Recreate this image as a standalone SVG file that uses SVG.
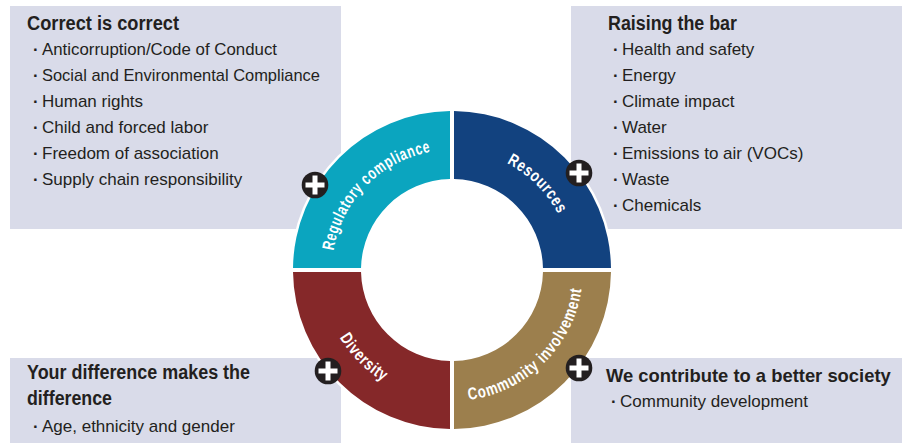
<svg xmlns="http://www.w3.org/2000/svg" width="904" height="443" viewBox="0 0 904 443">
<style>
.box{fill:#d9dbe9}
.title{font-family:"Liberation Sans",Arial,sans-serif;font-weight:bold;font-size:19.5px;fill:#231f20}
.title2{font-family:"Liberation Sans",Arial,sans-serif;font-weight:bold;font-size:18.4px;fill:#231f20}
.item{font-family:"Liberation Sans",Arial,sans-serif;font-size:17px;fill:#231f20}
.bul{font-family:"Liberation Sans",Arial,sans-serif;font-weight:bold;font-size:16.8px;fill:#231f20}
.ring{font-family:"Liberation Sans",Arial,sans-serif;font-weight:bold;font-size:17px;letter-spacing:1px;fill:#ffffff}
.plusbg{fill:#231f20}
.plus{fill:#ffffff}
</style>
<defs>
<path id="pReg" d="M333.55,250.81 A120,120 0 0 1 432.81,151.55"/>
<path id="pRes" d="M506.66,163.17 A120,120 0 0 1 558.83,215.34"/>
<path id="pCom" d="M468.87,399.91 A131,131 0 0 0 581.91,286.87"/>
<path id="pDiv" d="M339.71,337.47 A131,131 0 0 0 384.53,382.29"/>
<g id="plusIcon">
<circle class="plusbg" cx="0" cy="0" r="13.3"/>
<rect class="plus" x="-9.5" y="-2.5" width="19" height="5"/>
<rect class="plus" x="-2.5" y="-9.5" width="5" height="19"/>
</g>
</defs>
<rect width="904" height="443" fill="#ffffff"/>

<g id="box-correct">
<rect class="box" x="10" y="6" width="331" height="223"/>
<text class="title" x="27" y="30" textLength="152" lengthAdjust="spacingAndGlyphs">Correct is correct</text>
<text class="bul" x="33" y="55">·</text><text class="item" x="42" y="55" textLength="235" lengthAdjust="spacingAndGlyphs">Anticorruption/Code of Conduct</text>
<text class="bul" x="33" y="81">·</text><text class="item" x="42" y="81" textLength="278" lengthAdjust="spacingAndGlyphs">Social and Environmental Compliance</text>
<text class="bul" x="33" y="107">·</text><text class="item" x="42" y="107">Human rights</text>
<text class="bul" x="33" y="133">·</text><text class="item" x="42" y="133">Child and forced labor</text>
<text class="bul" x="33" y="159">·</text><text class="item" x="42" y="159">Freedom of association</text>
<text class="bul" x="33" y="185">·</text><text class="item" x="42" y="185">Supply chain responsibility</text>
</g>

<g id="box-raising">
<rect class="box" x="571" y="6" width="331" height="223"/>
<text class="title" x="608" y="30" textLength="129" lengthAdjust="spacingAndGlyphs">Raising the bar</text>
<text class="bul" x="613" y="55">·</text><text class="item" x="622" y="55">Health and safety</text>
<text class="bul" x="613" y="81">·</text><text class="item" x="622" y="81">Energy</text>
<text class="bul" x="613" y="107">·</text><text class="item" x="622" y="107">Climate impact</text>
<text class="bul" x="613" y="133">·</text><text class="item" x="622" y="133">Water</text>
<text class="bul" x="613" y="159">·</text><text class="item" x="622" y="159">Emissions to air (VOCs)</text>
<text class="bul" x="613" y="185">·</text><text class="item" x="622" y="185">Waste</text>
<text class="bul" x="613" y="211">·</text><text class="item" x="622" y="211">Chemicals</text>
</g>

<g id="box-difference">
<rect class="box" x="10" y="358" width="331" height="85"/>
<text class="title" x="27" y="379" textLength="223" lengthAdjust="spacingAndGlyphs">Your difference makes the</text>
<text class="title" x="27" y="405" textLength="85" lengthAdjust="spacingAndGlyphs">difference</text>
<text class="bul" x="33" y="432">·</text><text class="item" x="42" y="432">Age, ethnicity and gender</text>
</g>

<g id="box-society">
<rect class="box" x="571" y="358" width="331" height="85"/>
<text class="title2" x="606" y="382">We contribute to a better society</text>
<text class="bul" x="611" y="407">·</text><text class="item" x="620" y="407">Community development</text>
</g>

<circle cx="452" cy="270" r="161.5" fill="#ffffff"/>

<g id="seg-regulatory">
<path fill="#0ba5bf" d="M293.01,268 A159,159 0 0 1 450,111.01 L450,179.02 A91,91 0 0 0 361.02,268 Z"/>
<text class="ring"><textPath href="#pReg" textLength="148" lengthAdjust="spacingAndGlyphs">Regulatory compliance</textPath></text>
</g>
<g id="seg-resources">
<path fill="#12427f" d="M454,111.01 A159,159 0 0 1 610.99,268 L542.98,268 A91,91 0 0 0 454,179.02 Z"/>
<text class="ring"><textPath href="#pRes" textLength="74" lengthAdjust="spacingAndGlyphs">Resources</textPath></text>
</g>
<g id="seg-community">
<path fill="#9c7f4d" d="M610.99,272 A159,159 0 0 1 454,428.99 L454,360.98 A91,91 0 0 0 542.98,272 Z"/>
<text class="ring"><textPath href="#pCom" textLength="170" lengthAdjust="spacingAndGlyphs">Community involvement</textPath></text>
</g>
<g id="seg-diversity">
<path fill="#852829" d="M450,428.99 A159,159 0 0 1 293.01,272 L361.02,272 A91,91 0 0 0 450,360.98 Z"/>
<text class="ring"><textPath href="#pDiv" textLength="63" lengthAdjust="spacingAndGlyphs">Diversity</textPath></text>
</g>

<g id="plus-icons">
<use href="#plusIcon" x="315" y="185"/>
<use href="#plusIcon" x="579" y="173"/>
<use href="#plusIcon" x="328" y="371"/>
<use href="#plusIcon" x="579" y="368"/>
</g>
</svg>
